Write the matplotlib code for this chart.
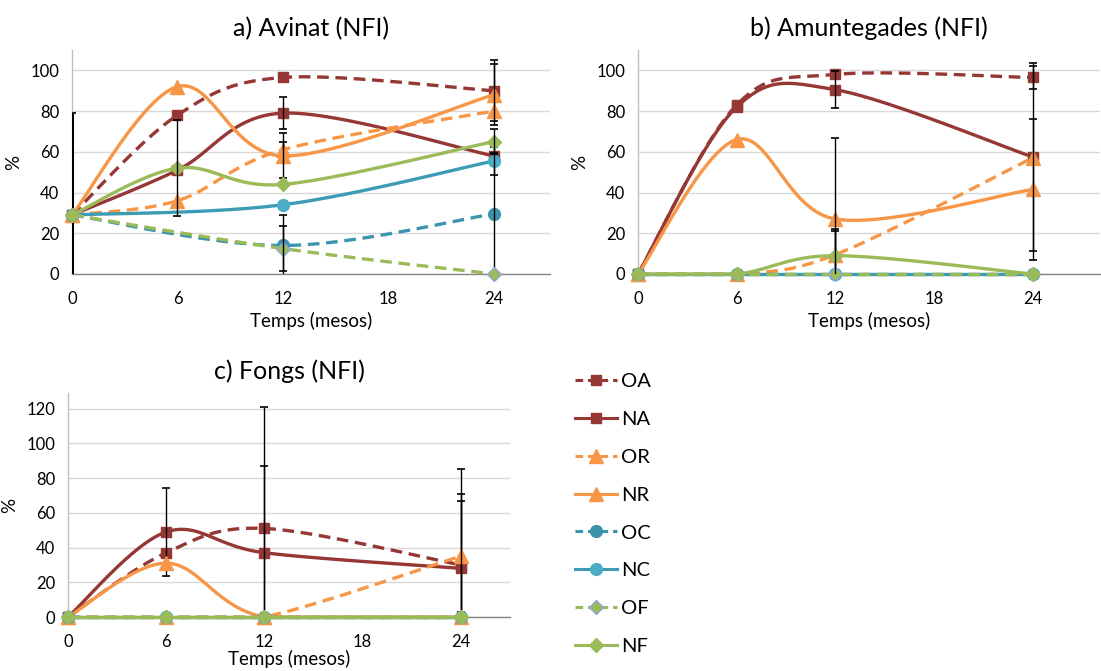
import numpy as np
import matplotlib
matplotlib.use('Agg')
import matplotlib.pyplot as plt
from matplotlib.lines import Line2D

plt.rcParams['font.family'] = ['Lato', 'DejaVu Sans']

months = [0, 6, 12, 24]
series = ['OA', 'NA', 'OR', 'NR', 'OC', 'NC', 'OF', 'NF']
nan = np.nan

# a) Avinat
avinat = {
    'OA': [29, 78, 96.5, 90],
    'NA': [29, 51, 79, 58],
    'OR': [29, 36, 61, 80],
    'NR': [29, 92, 58, 88],
    'OC': [29, nan, 14, 29.5],
    'NC': [29, nan, 34, 55.5],
    'OF': [29, nan, 12.5, 0],
    'NF': [29, 52, 44, 65],
}
avinat_err = {
    'OA': [0, 0, 0, 15],
    'NA': [0, 0, 8, 0],
    'OR': [0, 0, 4, 0],
    'NR': [50, 0, 11, 15],
    'OC': [0, 0, 15, 30],
    'NC': [0, 0, 0, 7],
    'OF': [0, 0, 11, 0],
    'NF': [0, 23.5, 0, 6],
}

# b) Amuntegades
amunt = {
    'OA': [0, 83, 98, 96.5],
    'NA': [0, 82, 90.5, 57.5],
    'OR': [0, 0, 9.5, 57],
    'NR': [0, 66, 27, 41.5],
    'OC': [0, 0, 0, 0],
    'NC': [0, 0, 0, 0],
    'OF': [0, 0, 0, 0],
    'NF': [0, 0, 9, 0],
}
amunt_err = {
    'OA': [0, 0, 0, 5.5],
    'NA': [0, 0, 9, 46],
    'OR': [0, 0, 12.5, 0],
    'NR': [0, 0, 40, 34.5],
    'OC': [0, 0, 0, 0],
    'NC': [0, 0, 0, 0],
    'OF': [0, 0, 0, 0],
    'NF': [0, 0, 12, 0],
}

# c) Fongs
fongs = {
    'OA': [0, 37, 51, 30],
    'NA': [0, 49, 37, 28],
    'OR': [0, 0, 0, 35],
    'NR': [0, 31, 0, 0],
    'OC': [0, 0, 0, 0],
    'NC': [0, 0, 0, 0],
    'OF': [0, 0, 0, 0],
    'NF': [0, 0, 0, 0],
}
fongs_err = {
    'OA': [0, 0, 70, 55],
    'NA': [0, 25.5, 50, 43],
    'OR': [0, 0, 0, 32],
    'NR': [0, 0, 0, 0],
    'OC': [0, 0, 0, 0],
    'NC': [0, 0, 0, 0],
    'OF': [0, 0, 0, 0],
    'NF': [0, 0, 0, 0],
}

red = '#953735'
orange = '#F79646'
green = '#9BBB59'
style = {
    'OA': dict(color=red, marker='s', ms=7.5, mfc=red, mec=red, dashed=True),
    'NA': dict(color=red, marker='s', ms=7.5, mfc=red, mec=red, dashed=False),
    'OR': dict(color=orange, marker='^', ms=10, mfc=orange, mec=orange, dashed=True),
    'NR': dict(color=orange, marker='^', ms=10, mfc=orange, mec=orange, dashed=False),
    'OC': dict(color='#3C95B0', marker='o', ms=8.5, mfc='#3A93AC', mec='#3A93AC', dashed=True),
    'NC': dict(color='#3E9BB6', marker='o', ms=8.5, mfc='#4BACC6', mec='#4BACC6', dashed=False),
    'OF': dict(color=green, marker='D', ms=7, mfc=green, mec='#8EA9DB', dashed=True),
    'NF': dict(color=green, marker='D', ms=7, mfc=green, mec=green, dashed=False),
}
dash = (0, (3.5, 2))


def smooth(xs, ys, n=40):
    # Excel-like smoothed line: Catmull-Rom as cubic bezier
    pts = np.column_stack([xs, ys])
    if len(pts) < 3:
        return pts[:, 0], pts[:, 1]
    out = []
    for i in range(len(pts) - 1):
        p0 = pts[max(i - 1, 0)]
        p1 = pts[i]
        p2 = pts[i + 1]
        p3 = pts[min(i + 2, len(pts) - 1)]
        c1 = p1 + (p2 - p0) / 6.0
        c2 = p2 - (p3 - p1) / 6.0
        t = np.linspace(0, 1, n)[:, None]
        seg = ((1 - t) ** 3) * p1 + 3 * ((1 - t) ** 2) * t * c1 + 3 * (1 - t) * t ** 2 * c2 + t ** 3 * p2
        out.append(seg if i == 0 else seg[1:])
    out = np.vstack(out)
    return out[:, 0], np.clip(out[:, 1], 0, None)


def draw_panel(ax, data, err, title, ymax, yticks, xmax, xlabelpad=4):
    x = np.array(months, dtype=float)
    for k, name in enumerate(series):
        st = style[name]
        y = np.array(data[name], dtype=float)
        e = np.array(err[name], dtype=float)
        ok = ~np.isnan(y)
        sx, sy = smooth(x[ok], y[ok])
        ax.plot(sx, sy, color=st['color'], lw=2.4,
                linestyle=dash if st['dashed'] else '-', zorder=3 + k * 0.1,
                clip_on=False, solid_capstyle='butt', dash_capstyle='butt')
        ax.plot(x[ok], y[ok], linestyle='none', marker=st['marker'], ms=st['ms'],
                mfc=st['mfc'], mec=st['mec'], mew=1, zorder=3.05 + k * 0.1, clip_on=False)
        for i in range(len(x)):
            if e[i] > 0:
                # the bar sitting on the y axis looks heavier in the original
                lw = 2.2 if x[i] == 0 else 1
                ax.errorbar([x[i]], [y[i]], yerr=[e[i]], fmt='none', ecolor='black',
                            elinewidth=lw, capsize=3, capthick=1.2, zorder=3.08 + k * 0.1)
    ax.set_xlim(0, xmax)
    ax.set_ylim(0, ymax)
    ax.set_xticks([0, 6, 12, 18, 24])
    ax.set_yticks(yticks)
    ax.tick_params(length=0, labelsize=12, colors='#000000')
    ax.tick_params(axis='x', pad=12)
    ax.tick_params(axis='y', pad=9)
    ax.grid(axis='y', color='#D9D9D9', lw=1)
    ax.set_axisbelow(True)
    for s in ['top', 'right']:
        ax.spines[s].set_visible(False)
    ax.spines['left'].set_color('#BFBFBF')
    ax.spines['bottom'].set_color('#868686')
    ax.spines['left'].set_linewidth(1)
    ax.spines['bottom'].set_linewidth(1)
    ax.set_title(title, fontsize=18, pad=10)
    ax.set_xlabel('Temps (mesos)', fontsize=13.5, labelpad=xlabelpad)
    ax.set_ylabel('%', fontsize=13.5, labelpad=6)


fig = plt.figure(figsize=(11.01, 6.71), dpi=100)
W, H = 1101.0, 671.0
ax_a = fig.add_axes([72 / W, 1 - 274 / H, (550 - 72) / W, 224 / H])
ax_b = fig.add_axes([638 / W, 1 - 274 / H, (1100 - 638) / W, 224 / H])
ax_c = fig.add_axes([68 / W, 1 - 617 / H, (510 - 68) / W, 224 / H])

draw_panel(ax_a, avinat, avinat_err, 'a) Avinat (NFI)', 110, [0, 20, 40, 60, 80, 100], 27.2)
draw_panel(ax_b, amunt, amunt_err, 'b) Amuntegades (NFI)', 110, [0, 20, 40, 60, 80, 100], 28.1)
draw_panel(ax_c, fongs, fongs_err, 'c) Fongs (NFI)', 129, [0, 20, 40, 60, 80, 100, 120], 27.0,
           xlabelpad=0)

handles = []
for name in series:
    st = style[name]
    handles.append(Line2D([0], [0], color=st['color'], lw=2.2,
                          linestyle=(0, (2.5, 1.6)) if st['dashed'] else '-',
                          marker=st['marker'], ms=st['ms'], mfc=st['mfc'], mec=st['mec']))
fig.legend(handles, series, loc='upper left', bbox_to_anchor=(565 / W, 1 - 363 / H),
           frameon=False, fontsize=14.5, handlelength=2.1, handletextpad=0.2,
           labelspacing=1.03, borderpad=0)

fig.savefig('out.png', dpi=100)
